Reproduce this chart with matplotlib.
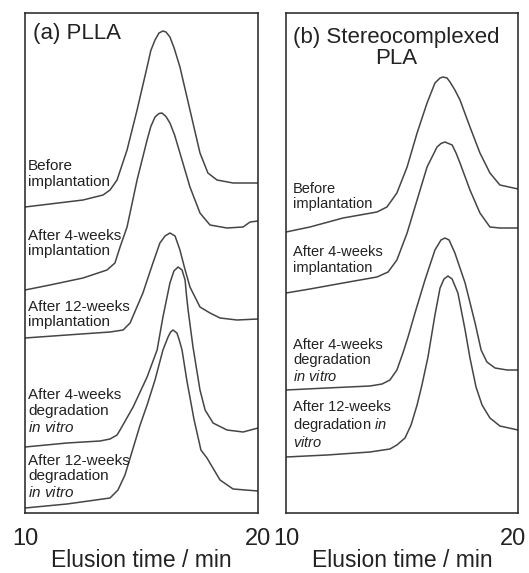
import matplotlib.pyplot as plt
from matplotlib.transforms import ScaledTranslation

plt.rcParams["font.family"] = ["Liberation Sans", "DejaVu Sans"]
plt.rcParams["mathtext.fontset"] = "custom"
plt.rcParams["mathtext.rm"] = "Liberation Sans"
plt.rcParams["mathtext.it"] = "Liberation Sans:italic"

# elution time (min) / detector signal (offset, arbitrary units)
# panel (a) PLLA
t_a_before = [10.00, 11.07, 12.49, 13.35, 13.65, 13.95, 14.38, 14.81, 15.24, 15.40, 15.58, 15.75,
              15.92, 16.05, 16.22, 16.40, 16.65, 17.08, 17.51, 17.85, 18.24, 18.93, 20.00]
s_a_before = [61.2, 61.8, 62.6, 63.6, 64.6, 66.6, 72.6, 80.6, 89.2, 92.5, 94.6, 96.0,
              96.4, 96.2, 95.2, 93.0, 89.2, 80.6, 72.0, 68.0, 66.6, 66.0, 66.0]

t_a_impl4 = [10.00, 11.07, 12.49, 13.52, 13.86, 14.08, 14.38, 14.81, 15.24, 15.40, 15.58, 15.75,
             15.88, 16.05, 16.22, 16.42, 16.65, 17.08, 17.51, 17.94, 18.67, 19.36, 19.66, 20.00]
s_a_impl4 = [44.6, 45.6, 47.0, 48.6, 50.0, 53.2, 57.2, 66.6, 74.6, 77.3, 79.2, 79.9,
             80.0, 79.3, 78.0, 75.6, 72.0, 65.2, 60.0, 57.6, 57.0, 57.2, 58.2, 58.4]

t_a_impl12 = [10.00, 11.80, 13.65, 14.21, 14.51, 15.06, 15.49, 15.79, 16.01, 16.22,
              16.44, 16.65, 16.85, 17.08, 17.51, 17.94, 18.37, 19.10, 20.00]
s_a_impl12 = [35.0, 35.6, 36.2, 36.6, 38.0, 44.0, 50.0, 54.0, 55.4, 56.0,
              55.4, 52.6, 49.0, 45.2, 41.2, 40.0, 39.0, 38.6, 38.8]

t_a_deg4 = [10.00, 11.80, 13.22, 13.65, 13.95, 14.08, 14.64, 15.24, 15.67, 15.92, 16.22, 16.39,
            16.57, 16.74, 16.87, 16.93, 17.00, 17.21, 17.51, 17.73, 18.07, 18.67, 19.36, 20.00]
s_a_deg4 = [13.2, 14.0, 14.4, 14.8, 15.6, 16.6, 21.2, 27.2, 32.6, 39.2, 46.0, 48.4,
            49.2, 48.6, 46.6, 43.6, 40.6, 33.2, 24.6, 20.6, 18.0, 16.6, 16.2, 17.0]

t_a_deg12 = [10.00, 11.80, 13.65, 13.99, 14.29, 14.59, 14.94, 15.24, 15.58, 15.92, 16.14, 16.25,
             16.35, 16.52, 16.62, 16.74, 16.95, 17.25, 17.55, 17.81, 18.37, 18.93, 20.00]
s_a_deg12 = [1.0, 1.8, 3.0, 4.6, 7.6, 12.2, 17.6, 21.6, 26.6, 32.6, 35.2, 36.2,
             36.6, 36.0, 34.6, 32.6, 26.4, 18.8, 12.6, 11.0, 6.6, 4.8, 4.4]

# panel (b) stereocomplexed PLA
t_b_before = [10.00, 11.03, 12.46, 13.92, 14.35, 14.78, 15.22, 15.65, 16.08, 16.42,
              16.64, 16.77, 16.94, 17.07, 17.28, 17.50, 17.93, 18.36, 18.79, 19.22, 20.00]
s_b_before = [56.2, 57.2, 59.0, 60.2, 61.2, 64.0, 69.2, 76.0, 82.0, 86.0,
              87.0, 87.2, 87.0, 86.2, 84.6, 82.6, 77.2, 72.0, 68.0, 65.6, 64.8]

t_b_impl4 = [10.00, 11.03, 12.46, 13.92, 14.40, 14.78, 15.22, 15.65, 16.08, 16.51, 16.68,
             16.85, 17.16, 17.33, 17.50, 17.93, 18.36, 18.79, 19.22, 20.00]
s_b_impl4 = [44.0, 44.8, 46.0, 47.2, 48.2, 50.6, 56.0, 62.6, 69.2, 73.2, 73.9,
             74.2, 73.6, 72.0, 70.0, 64.6, 60.0, 57.2, 57.0, 57.0]

t_b_deg4 = [10.00, 11.77, 13.62, 14.14, 14.48, 14.78, 15.04, 15.26, 15.56, 15.99, 16.42,
            16.68, 16.85, 17.03, 17.28, 17.72, 18.15, 18.41, 18.66, 19.01, 19.53, 20.00]
s_b_deg4 = [24.6, 25.0, 25.4, 25.8, 26.6, 28.6, 32.0, 35.2, 40.0, 46.6, 52.6,
            54.6, 55.0, 54.6, 52.0, 46.0, 38.0, 32.6, 30.2, 29.0, 28.6, 28.6]

t_b_deg12 = [10.00, 11.77, 13.62, 14.48, 14.78, 15.13, 15.39, 15.65, 15.86, 16.12, 16.42, 16.64,
             16.81, 16.98, 17.16, 17.41, 17.72, 17.93, 18.19, 18.45, 18.79, 19.22, 20.00]
s_b_deg12 = [11.2, 11.6, 12.2, 12.8, 13.6, 15.0, 17.6, 21.6, 25.6, 31.2, 39.6, 45.0,
             46.8, 47.4, 46.8, 44.0, 36.6, 31.0, 25.2, 21.6, 19.0, 17.4, 16.6]

labels_a = ["Before\nimplantation",
            "After 4-weeks\nimplantation",
            "After 12-weeks\nimplantation",
            "After 4-weeks\ndegradation\n$\\mathit{in\\ vitro}$",
            "After 12-weeks\ndegradation\n$\\mathit{in\\ vitro}$"]
labels_b = ["Before\nimplantation",
            "After 4-weeks\nimplantation",
            "After 4-weeks\ndegradation\n$\\mathit{in\\ vitro}$",
            "After 12-weeks\ndegradation $\\mathit{in}$\n$\\mathit{vitro}$"]
label_y_a = [0.678, 0.539, 0.397, 0.203, 0.072]
label_y_b = [0.633, 0.506, 0.304, 0.176]

curves_a = [(t_a_before, s_a_before), (t_a_impl4, s_a_impl4), (t_a_impl12, s_a_impl12),
            (t_a_deg4, s_a_deg4), (t_a_deg12, s_a_deg12)]
curves_b = [(t_b_before, s_b_before), (t_b_impl4, s_b_impl4),
            (t_b_deg4, s_b_deg4), (t_b_deg12, s_b_deg12)]

line_col = "#454545"
text_col = "#222222"

fig = plt.figure(figsize=(5.29, 5.73), dpi=100)
W, H = 529, 573
ax_a = fig.add_axes([25 / W, 60 / H, 233 / W, 500 / H])
ax_b = fig.add_axes([286 / W, 60 / H, 232 / W, 500 / H])


def draw_panel(ax, curves, labels, label_y, label_x, label_size):
    for t, s in curves:
        ax.plot(t, s, color=line_col, lw=1.1, solid_joinstyle="round")
    for lab, y in zip(labels, label_y):
        ax.text(label_x, y, lab, transform=ax.transAxes, ha="left", va="center",
                fontsize=label_size, color=text_col, linespacing=1.15)
    ax.set_xlim(10, 20)
    ax.set_ylim(0, 100)
    ax.set_xticks([10, 20])
    ax.set_yticks([])
    ax.tick_params(axis="x", length=0, pad=11, labelsize=17, colors=text_col)
    ax.set_xlabel("Elusion time / min", fontsize=16.5, color=text_col, labelpad=-1)
    for sp in ax.spines.values():
        sp.set_linewidth(1.1)
        sp.set_color("#222222")


draw_panel(ax_a, curves_a, labels_a, label_y_a, 0.013, 11)
draw_panel(ax_b, curves_b, labels_b, label_y_b, 0.030, 10.5)

# keep the last tick label of panel (b) inside the picture
last = ax_b.get_xticklabels()[-1]
last.set_transform(last.get_transform() + ScaledTranslation(-0.05, 0, fig.dpi_scale_trans))

ax_a.text(0.034, 0.96, "(a) PLLA", transform=ax_a.transAxes, ha="left", va="center",
          fontsize=16, color=text_col)
ax_b.text(0.030, 0.931, "(b) Stereocomplexed\nPLA", transform=ax_b.transAxes, ha="left",
          va="center", multialignment="center", fontsize=16, color=text_col, linespacing=1.0)

fig.savefig("out.png", dpi=100)
